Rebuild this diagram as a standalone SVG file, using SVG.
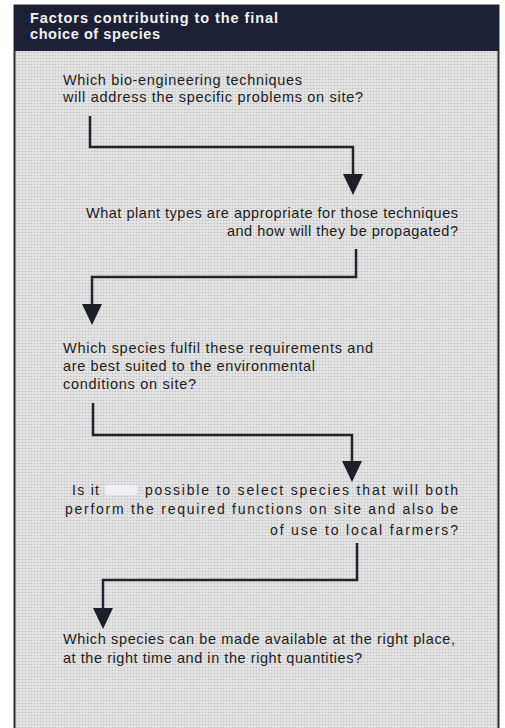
<svg xmlns="http://www.w3.org/2000/svg" width="505" height="728" viewBox="0 0 505 728">
<style>
.q{font-family:"Liberation Sans",Arial,sans-serif;font-size:14.5px;fill:#1c1c20}
.q4{font-family:"Liberation Sans",Arial,sans-serif;font-size:14px;fill:#1c1c20}
.h{font-family:"Liberation Sans",Arial,sans-serif;font-size:14.5px;font-weight:bold;fill:#f2f2f2}
.c{fill:none;stroke:#222228;stroke-width:2.5;marker-end:url(#arr)}
</style>
<defs>
<pattern id="dots" width="3" height="3" patternUnits="userSpaceOnUse">
<rect width="3" height="3" fill="#e3e3e3"/>
<circle cx="1.5" cy="1.5" r="0.8" fill="#c2c2c2"/>
</pattern>
<marker id="arr" markerUnits="userSpaceOnUse" markerWidth="21" markerHeight="20" refX="15" refY="10" orient="auto" viewBox="0 0 21 20">
<path d="M0,0 L21,10 L0,20 z" fill="#1e1e26"/>
</marker>
</defs>
<rect width="505" height="728" fill="#ffffff"/>
<g id="frame">
<rect x="14.5" y="5.5" width="484" height="730" fill="url(#dots)" stroke="#2a2a30" stroke-width="2"/>
<rect x="14" y="5" width="485" height="46" fill="#1d2035"/>
<text class="h" x="30" y="23" textLength="248" lengthAdjust="spacing">Factors contributing to the final</text>
<text class="h" x="30" y="39" textLength="130" lengthAdjust="spacing">choice of species</text>
</g>
<g id="connectors">
<path class="c" d="M90,116 V147 H353 V189"/>
<path class="c" d="M356,249 V277 H92 V319"/>
<path class="c" d="M93,403 V435 H352 V476"/>
<path class="c" d="M357,543 V580 H103 V623"/>
</g>
<g id="n1">
<text class="q" x="63" y="85" textLength="239" lengthAdjust="spacing">Which bio-engineering techniques</text>
<text class="q" x="63" y="102" textLength="300" lengthAdjust="spacing">will address the specific problems on site?</text>
</g>
<g id="n2">
<text class="q" x="86" y="218" textLength="372" lengthAdjust="spacing">What plant types are appropriate for those techniques</text>
<text class="q" x="227" y="236" textLength="231" lengthAdjust="spacing">and how will they be propagated?</text>
</g>
<g id="n3">
<text class="q" x="63" y="353" textLength="310" lengthAdjust="spacing">Which species fulfil these requirements and</text>
<text class="q" x="63" y="371" textLength="252" lengthAdjust="spacing">are best suited to the environmental</text>
<text class="q" x="63" y="389" textLength="133" lengthAdjust="spacing">conditions on site?</text>
</g>
<g id="n4">
<rect x="105" y="485" width="32" height="10" rx="3" fill="#eef0f5"/>
<text class="q4" x="72" y="495" textLength="27" lengthAdjust="spacing">Is it</text>
<text class="q4" x="145" y="495" textLength="313" lengthAdjust="spacing">possible to select species that will both</text>
<text class="q4" x="65" y="514" textLength="393" lengthAdjust="spacing">perform the required functions on site and also be</text>
<text class="q4" x="270" y="535" textLength="188" lengthAdjust="spacing">of use to local farmers?</text>
</g>
<g id="n5">
<text class="q" x="63" y="644" textLength="392" lengthAdjust="spacing">Which species can be made available at the right place,</text>
<text class="q" x="63" y="663" textLength="299" lengthAdjust="spacing">at the right time and in the right quantities?</text>
</g>
</svg>
